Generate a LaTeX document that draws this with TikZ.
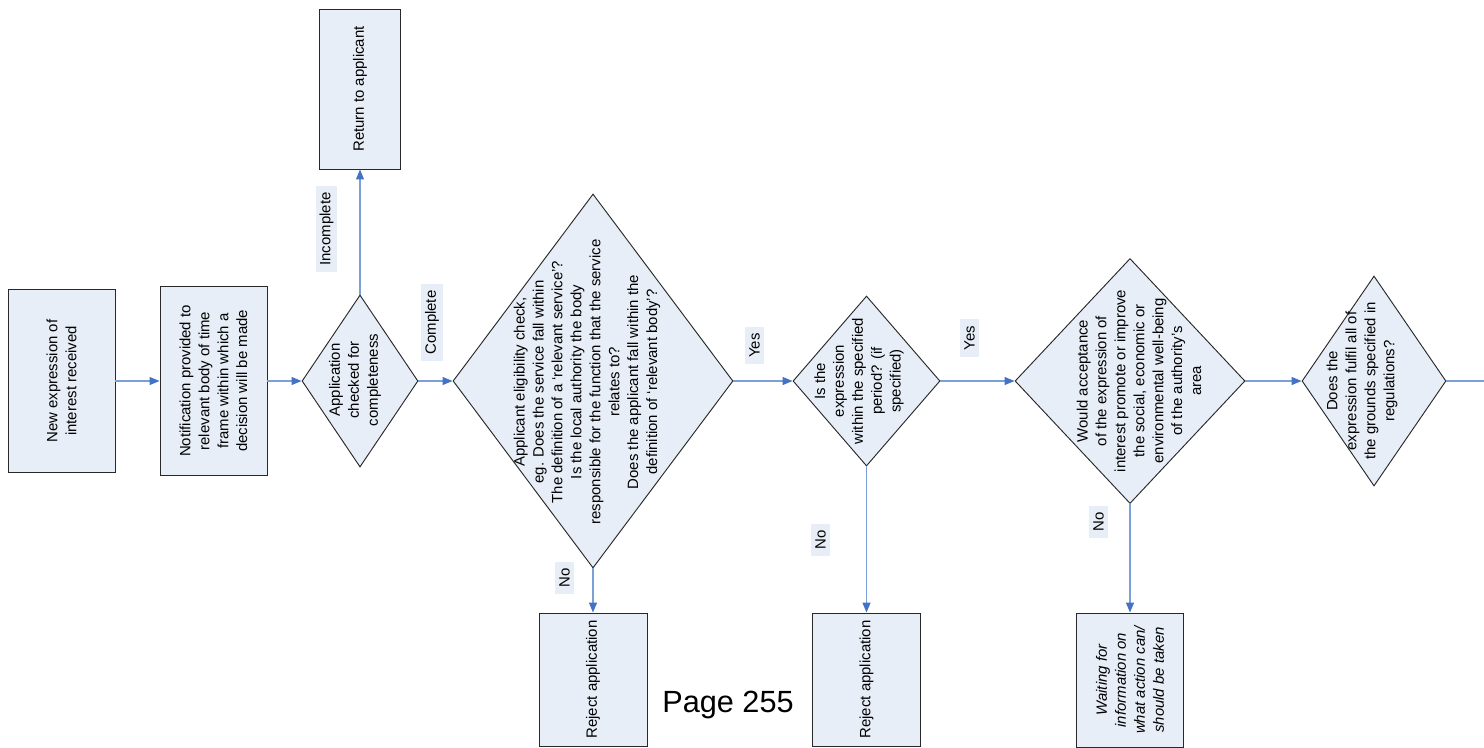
\documentclass[tikz,border=0pt]{standalone}
\usepackage{fontspec}
\setmainfont{Liberation Sans}
\usepackage{tikz}
\usetikzlibrary{shapes.geometric}
\usetikzlibrary{arrows.meta}
\definecolor{boxfill}{RGB}{232, 238, 247}
\definecolor{lineblue}{RGB}{122, 160, 214}
\definecolor{tipblue}{RGB}{68, 114, 196}
\definecolor{edgegray}{RGB}{40, 40, 40}

\tikzset{
  box/.style={draw=edgegray, line width=0.7pt, fill=boxfill, rotate=90, align=center,
    font=\fontsize{11.2}{14.2}\selectfont},
  dia/.style={diamond, draw=edgegray, line width=0.7pt, fill=boxfill, inner sep=0pt},
  dtext/.style={rotate=90, align=center, inner sep=0pt, font=\fontsize{11.2}{14.2}\selectfont},
  lbl/.style={rotate=90, fill=boxfill, inner xsep=5pt, inner ysep=3pt,
    font=\fontsize{11.2}{14.2}\selectfont},
  arr/.style={draw=lineblue, line width=0.9pt, -{Triangle[length=7.5pt,width=6pt,color=tipblue]}}
}

\begin{document}
\begin{tikzpicture}[x=0.75pt, y=-0.75pt]
    \useasboundingbox (0,0) rectangle (1484,747);

    \node[box, minimum width=137.25pt, minimum height=80.25pt] (new) at (61.5,381)
      {New expression of\\interest received};
    \node[box, minimum width=141.75pt, minimum height=80.25pt] (notif) at (213.5,381)
      {Notification provided to\\relevant body of time\\frame within which a\\decision will be made};

    \node[dia, minimum width=87pt, minimum height=129pt] (check) at (360,381) {};
    \node[dtext] (checkt) at (355,380) {Application\\checked for\\completeness};
    \node[box, minimum width=120pt, minimum height=60.75pt] (return) at (360,89)
      {Return to applicant};

    \node[dia, minimum width=210pt, minimum height=280.5pt] (elig) at (593,381) {};
    \node[dtext] (eligt) at (587,382) {Applicant eligibility check,\\eg. Does the service fall within\\The definition of a `relevant service'?\\Is the local authority the body\\responsible for the function that the service\\relates to?\\Does the applicant fall within the\\definition of `relevant body'?};
    \node[box, minimum width=99.75pt, minimum height=81pt] (reject1) at (593,679.5)
      {Reject application};

    \node[dia, minimum width=110.25pt, minimum height=127.5pt] (period) at (866.5,381) {};
    \node[dtext] (periodt) at (859,381) {Is the\\expression\\within the specified\\period? (if\\specified)};
    \node[box, minimum width=99.75pt, minimum height=81pt] (reject2) at (866.5,679.5)
      {Reject application};

    \node[dia, minimum width=172.5pt, minimum height=183.75pt] (wellb) at (1130,381) {};
    \node[dtext] (wellbt) at (1139,381) {Would acceptance\\of the expression of\\interest promote or improve\\the social, economic or\\environmental well-being\\of the authority's\\area};
    \node[box, minimum width=100.5pt, minimum height=80.25pt] (wait) at (1130,680)
      {\itshape Waiting for\\\itshape information on\\\itshape what action can/\\\itshape should be taken};

    \node[dia, minimum width=108pt, minimum height=157.5pt] (grounds) at (1374,381) {};
    \node[dtext] (groundst) at (1362,381) {Does the\\expression fulfil all of\\the grounds specified in\\regulations?};
    \coordinate (out) at (1484,381);

    \draw[arr] (new) -- (notif);
    \draw[arr] (notif) -- (check);
    \draw[arr] (check) -- (return);
    \draw[arr] (check) -- (elig);
    \draw[arr] (elig) -- (reject1);
    \draw[arr] (elig) -- (period);
    \draw[arr] (period) -- (reject2);
    \draw[arr] (period) -- (wellb);
    \draw[arr] (wellb) -- (wait);
    \draw[arr] (wellb) -- (grounds);
    \draw[draw=lineblue, line width=0.9pt] (grounds) -- (out);

    \node[lbl] (incomplete) at (326.5,229) {Incomplete};
    \node[lbl] (complete) at (432,322.5) {Complete};
    \node[lbl] (yes1) at (754.5,345.5) {Yes};
    \node[lbl] (yes2) at (969.5,338) {Yes};
    \node[lbl] (no1) at (564.5,578) {No};
    \node[lbl] (no2) at (820.5,540) {No};
    \node[lbl] (no3) at (1098.5,522) {No};

    \node[font=\fontsize{23}{28}\selectfont] (page) at (728,705) {Page 255};
  \end{tikzpicture}
\end{document}
